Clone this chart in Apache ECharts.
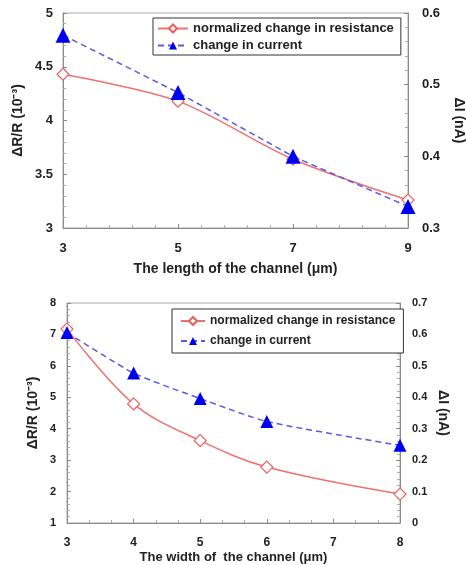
<!DOCTYPE html>
<html>
<head>
<meta charset="utf-8">
<script src="https://cdn.jsdelivr.net/npm/echarts@6/dist/echarts.min.js"></script>
<style>
  html, body { margin: 0; padding: 0; background: #fff; }
  #chart { width: 466px; height: 565px; }
</style>
</head>
<body>
<div id="chart"></div>
<script>
// top panel: channel length
const lengthX = [3, 5, 7, 9];
const lengthRes = [4.43, 4.18, 3.64, 3.26];
const lengthCur = [0.569, 0.489, 0.40, 0.33];

// bottom panel: channel width
const widthX = [3, 4, 5, 6, 8];
const widthRes = [7.17, 4.79, 3.62, 2.78, 1.92];
const widthCur = [0.606, 0.477, 0.396, 0.323, 0.247];

const resName = "normalized change in resistance";
const curName = "change in current";

const font = "Liberation Sans, Arial, sans-serif";
const axisColor = "#8a8a8a";
const redLine = "#f07070";
const redMark = "#e8605c";
const blueLine = "#5a5ae8";
const blueMark = "#0000f0";

const pairs = (xs, ys) => xs.map((x, i) => [x, ys[i]]);

function xAxis(gridIndex, min, max, interval, name, size, margin, nameGap) {
  return {
    type: "value", gridIndex, min, max, interval,
    name, nameLocation: "middle", nameGap, nameMoveOverlap: false,
    nameTextStyle: { fontFamily: font, fontWeight: "bold", fontSize: size + 1, color: "#222" },
    axisLine: { lineStyle: { color: axisColor } },
    axisTick: { inside: true, length: 4, lineStyle: { color: axisColor } },
    minorTick: { show: true, splitNumber: interval === 2 ? 5 : 3, length: 3, lineStyle: { color: "#aaa" } },
    axisLabel: { fontFamily: font, fontWeight: "bold", fontSize: size, color: "#222", margin },
    splitLine: { show: false }
  };
}

function yAxis(gridIndex, min, max, interval, name, right, size, margin, nameGap) {
  return {
    type: "value", gridIndex, min, max, interval,
    position: right ? "right" : "left",
    name, nameLocation: "middle", nameGap, nameMoveOverlap: false,
    nameRotate: right ? -90 : 90,
    nameTextStyle: { fontFamily: font, fontWeight: "bold", fontSize: 14, color: "#222" },
    axisLine: { show: true, lineStyle: { color: axisColor } },
    axisTick: { inside: true, length: 4, lineStyle: { color: axisColor } },
    minorTick: { show: true, splitNumber: 5, length: 3, lineStyle: { color: "#aaa" } },
    axisLabel: { fontFamily: font, fontWeight: "bold", fontSize: size, color: "#222", margin,
      formatter: v => String(+v.toFixed(2)) },
    splitLine: { show: false }
  };
}

function resSeries(x, y, data, smooth) {
  return {
    name: resName, type: "line", xAxisIndex: x, yAxisIndex: y, data, smooth,
    symbol: "diamond", symbolSize: 12,
    itemStyle: { color: "#fff", borderColor: redMark, borderWidth: 1.2 },
    lineStyle: { color: redLine, width: 1.5 }
  };
}

function curSeries(x, y, data, smooth, size) {
  return {
    name: curName, type: "line", xAxisIndex: x, yAxisIndex: y, data, smooth,
    symbol: "triangle", symbolSize: size,
    itemStyle: { color: blueMark },
    lineStyle: { color: blueLine, width: 1.5, type: [6, 4] }
  };
}

function legend(left, top, size, gap, iconW, pad) {
  return {
    orient: "vertical", left, top,
    padding: pad, itemGap: gap,
    itemWidth: iconW, itemHeight: 10,
    borderColor: "#333", borderWidth: 1, backgroundColor: "#fff",
    textStyle: { fontFamily: font, fontWeight: "bold", fontSize: size, color: "#222" },
    data: [resName, curName]
  };
}

const chart = echarts.init(document.getElementById("chart"), null, { renderer: "canvas" });
chart.setOption({
  animation: false,
  backgroundColor: "#fff",
  grid: [
    { left: 63, right: 58, top: 13, bottom: 337, outerBoundsMode: "none",
      show: true, borderColor: "#aaa", backgroundColor: "transparent" },
    { left: 67, right: 66, top: 303, bottom: 42, outerBoundsMode: "none",
      show: true, borderColor: "#aaa", backgroundColor: "transparent" }
  ],
  xAxis: [
    xAxis(0, 3, 9, 2, "The length of the channel (μm)", 13, 14, 34),
    xAxis(1, 3, 8, 1, "The width of  the channel (μm)", 12, 14, 28)
  ],
  yAxis: [
    yAxis(0, 3, 5, 0.5, "ΔR/R (10⁻³)", false, 13, 10, 38),
    yAxis(0, 0.3, 0.6, 0.1, "ΔI (nA)", true, 13, 14, 44),
    yAxis(1, 1, 8, 1, "ΔR/R (10⁻³)", false, 11, 11, 27),
    yAxis(1, 0, 0.7, 0.1, "ΔI (nA)", true, 11, 12, 36)
  ],
  legend: [
    legend(153, 18, 13, 4, 30, [4, 7, 3, 4]),
    legend(172, 309, 12, 8, 24, [6, 8, 6, 8])
  ],
  series: [
    resSeries(0, 0, pairs(lengthX, lengthRes), 0.3),
    curSeries(0, 1, pairs(lengthX, lengthCur), false, 15),
    resSeries(1, 2, pairs(widthX, widthRes), 0.35),
    curSeries(1, 3, pairs(widthX, widthCur), 0.2, 13)
  ]
});
</script>
</body>
</html>
